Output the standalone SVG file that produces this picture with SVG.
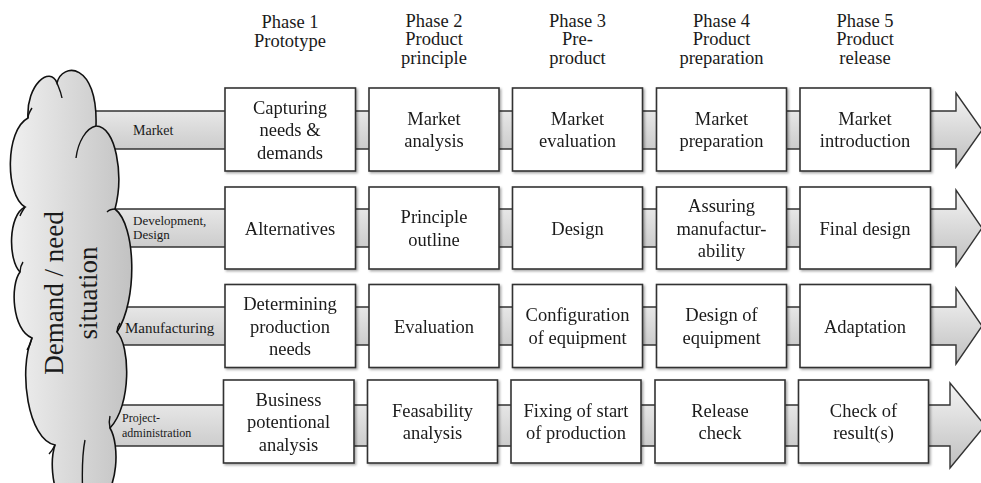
<svg xmlns="http://www.w3.org/2000/svg" width="981" height="483" viewBox="0 0 981 483">
<defs>
<linearGradient id="gBand" x1="0" y1="0" x2="0" y2="1">
<stop offset="0" stop-color="#f4f4f4"/>
<stop offset="1" stop-color="#bfbfbf"/>
</linearGradient>
<linearGradient id="gCloud" x1="0" y1="0" x2="1" y2="0">
<stop offset="0" stop-color="#f0f0f0"/>
<stop offset="1" stop-color="#c2c2c2"/>
</linearGradient>
<filter id="sh" x="-10%" y="-10%" width="125%" height="125%">
<feDropShadow dx="1.5" dy="1.5" stdDeviation="1" flood-color="#000" flood-opacity="0.35"/>
</filter>
</defs>
<style>
text{font-family:"Liberation Serif","Times New Roman",serif;fill:#1a1a1a}
.hd{font-size:18.5px;text-anchor:middle}
.bx text{font-size:18.5px;text-anchor:middle}
.bx rect{fill:#fff;stroke:#333;stroke-width:1.6}
.bx{filter:url(#sh)}
.arr{fill:url(#gBand);stroke:#333;stroke-width:1.4;stroke-linejoin:miter}
.cl{fill:url(#gCloud);stroke:#111;stroke-width:1.6}
.cli{fill:none;stroke:#111;stroke-width:1.4}
.lbl{font-size:14px}
</style>
<rect width="981" height="483" fill="#fff"/>

<g id="headers">
<text class="hd" x="290" y="28">Phase 1</text>
<text class="hd" x="290" y="47">Prototype</text>
<text class="hd" x="434" y="26.5">Phase 2</text>
<text class="hd" x="434" y="45">Product</text>
<text class="hd" x="434" y="63.5">principle</text>
<text class="hd" x="577.5" y="26.5">Phase 3</text>
<text class="hd" x="577.5" y="45">Pre-</text>
<text class="hd" x="577.5" y="63.5">product</text>
<text class="hd" x="721.5" y="26.5">Phase 4</text>
<text class="hd" x="721.5" y="45">Product</text>
<text class="hd" x="721.5" y="63.5">preparation</text>
<text class="hd" x="865" y="26.5">Phase 5</text>
<text class="hd" x="865" y="45">Product</text>
<text class="hd" x="865" y="63.5">release</text>
</g>

<g id="connectors">
<path class="arr" d="M 80 111 H 956 V 93 L 982 130 L 956 167 V 149 H 80 Z"/>
<path class="arr" d="M 80 209 H 956 V 190 L 982 228 L 956 266 V 247 H 80 Z"/>
<path class="arr" d="M 80 307 H 956 V 288 L 982 326 L 956 364 V 345 H 80 Z"/>
<path class="arr" d="M 80 405 H 950 V 383 L 985 425.5 L 950 468 V 446 H 80 Z"/>
</g>

<g id="cloud">
<path class="cl" d="M 28 118 C 26 85, 50 65, 57 83 C 62 62, 98 62, 96 126 C 116 126, 124 175, 115 209 C 136 225, 138 300, 117 332 C 130 345, 132 405, 110 428 C 120 445, 118 490, 100 500 L 60 500 C 52 485, 50 460, 55 445 C 28 440, 18 370, 32 338 C 12 330, 10 285, 20 272 C 8 260, 8 215, 25 207 C 5 195, 5 130, 28 118 Z"/>
<path class="cli" d="M 57 83 C 59 88, 61 92, 62 98"/>
<path class="cli" d="M 96 126 C 86 128, 78 142, 76 158"/>
<path class="cli" d="M 115 209 C 112 209, 109 210, 107 212"/>
<path class="cli" d="M 117 332 C 117 328, 118 326, 120 323"/>
<path class="cli" d="M 110 428 C 109 424, 109 420, 110 416"/>
<path class="cli" d="M 83 500 C 82 480, 82 455, 85 440"/>
<path class="cli" d="M 32 338 C 31 343, 29 347, 27 350"/>
<path class="cli" d="M 55 445 C 53 449, 51 452, 49 454"/>
<path class="cli" d="M 25 207 C 23 210, 21 213, 20 216"/>
<path class="cli" d="M 28 118 C 28 114, 30 111, 32 108"/>
<path class="cli" d="M 20 272 C 20 268, 21 265, 23 262"/>
<text x="63" y="293" font-size="27" text-anchor="middle" transform="rotate(-90 63 293)">Demand / need</text>
<text x="97" y="293" font-size="27" text-anchor="middle" transform="rotate(-90 97 293)">situation</text>
</g>

<g id="lane-labels">
<text class="lbl" x="133" y="135">Market</text>
<text x="133" y="224.5" font-size="13">Development,</text>
<text x="133" y="238.5" font-size="13">Design</text>
<text x="125" y="333" font-size="15">Manufacturing</text>
<text x="122" y="421.5" font-size="12">Project-</text>
<text x="122" y="436.5" font-size="12">administration</text>
</g>

<g id="n11" class="bx"><rect x="225" y="88" width="130.5" height="83"/><text x="290" y="113.5">Capturing</text><text x="290" y="136">needs &amp;</text><text x="290" y="158.5">demands</text></g>
<g id="n12" class="bx"><rect x="369" y="88" width="130" height="83"/><text x="434" y="124.75">Market</text><text x="434" y="147.25">analysis</text></g>
<g id="n13" class="bx"><rect x="512.5" y="88" width="130" height="83"/><text x="577.5" y="124.75">Market</text><text x="577.5" y="147.25">evaluation</text></g>
<g id="n14" class="bx"><rect x="656.5" y="88" width="130" height="83"/><text x="721.5" y="124.75">Market</text><text x="721.5" y="147.25">preparation</text></g>
<g id="n15" class="bx"><rect x="800" y="88" width="130.5" height="83"/><text x="865" y="124.75">Market</text><text x="865" y="147.25">introduction</text></g>

<g id="n21" class="bx"><rect x="225" y="187" width="130.5" height="82"/><text x="290" y="234.5">Alternatives</text></g>
<g id="n22" class="bx"><rect x="369" y="187" width="130" height="82"/><text x="434" y="223.25">Principle</text><text x="434" y="245.75">outline</text></g>
<g id="n23" class="bx"><rect x="512.5" y="187" width="130" height="82"/><text x="577.5" y="234.5">Design</text></g>
<g id="n24" class="bx"><rect x="656.5" y="187" width="130" height="82"/><text x="721.5" y="212">Assuring</text><text x="721.5" y="234.5">manufactur-</text><text x="721.5" y="257">ability</text></g>
<g id="n25" class="bx"><rect x="800" y="187" width="130.5" height="82"/><text x="865" y="234.5">Final design</text></g>

<g id="n31" class="bx"><rect x="225" y="284.5" width="130.5" height="83"/><text x="290" y="310">Determining</text><text x="290" y="332.5">production</text><text x="290" y="355">needs</text></g>
<g id="n32" class="bx"><rect x="369" y="284.5" width="130" height="83"/><text x="434" y="332.5">Evaluation</text></g>
<g id="n33" class="bx"><rect x="512.5" y="284.5" width="130" height="83"/><text x="577.5" y="321.25">Configuration</text><text x="577.5" y="343.75">of equipment</text></g>
<g id="n34" class="bx"><rect x="656.5" y="284.5" width="130" height="83"/><text x="721.5" y="321.25">Design of</text><text x="721.5" y="343.75">equipment</text></g>
<g id="n35" class="bx"><rect x="800" y="284.5" width="130.5" height="83"/><text x="865" y="332.5">Adaptation</text></g>

<g id="n41" class="bx"><rect x="223.5" y="380" width="130.5" height="83"/><text x="288.5" y="405.5">Business</text><text x="288.5" y="428">potentional</text><text x="288.5" y="450.5">analysis</text></g>
<g id="n42" class="bx"><rect x="367.5" y="380" width="130" height="83"/><text x="432.5" y="416.75">Feasability</text><text x="432.5" y="439.25">analysis</text></g>
<g id="n43" class="bx"><rect x="511" y="380" width="130" height="83"/><text x="576" y="416.75">Fixing of start</text><text x="576" y="439.25">of production</text></g>
<g id="n44" class="bx"><rect x="655" y="380" width="130" height="83"/><text x="720" y="416.75">Release</text><text x="720" y="439.25">check</text></g>
<g id="n45" class="bx"><rect x="798.5" y="380" width="130" height="83"/><text x="863.5" y="416.75">Check of</text><text x="863.5" y="439.25">result(s)</text></g>
</svg>
